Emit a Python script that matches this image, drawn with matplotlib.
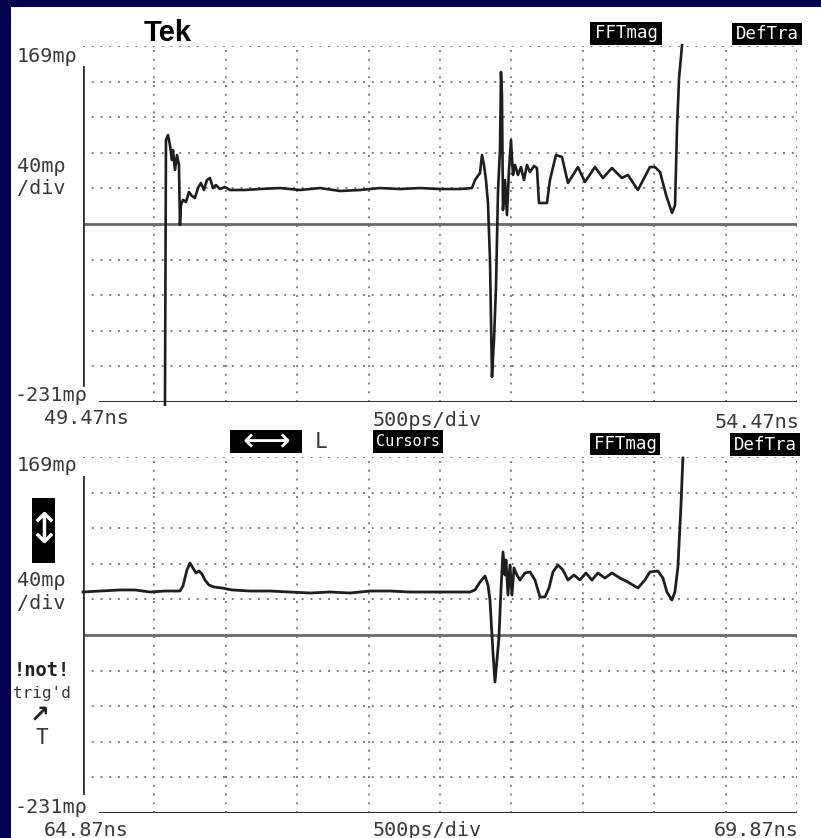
import matplotlib
matplotlib.use('Agg')
import numpy as np
from matplotlib import pyplot as plt
from matplotlib.patches import Rectangle

# screen settings
v_top, v_bottom = 169, -231        # mρ
v_per_div = 40
center_v = -31                      # solid reference line
t_per_div = 0.5                     # ns (500 ps/div)
t0_top, t1_top = 49.47, 54.47
t0_bot, t1_bot = 64.87, 69.87

# upper trace (ns, mρ)
t_upper = [50.044, 50.051, 50.065, 50.079, 50.093, 50.100, 50.114, 50.128, 50.142, 50.149,
           50.156, 50.170, 50.191, 50.212, 50.233, 50.254, 50.275, 50.296, 50.317, 50.338,
           50.359, 50.380, 50.401, 50.429, 50.464, 50.499, 50.604, 50.709, 50.850, 50.990,
           51.130, 51.270, 51.410, 51.550, 51.690, 51.830, 51.970, 52.110, 52.194, 52.215,
           52.250, 52.264, 52.278, 52.292, 52.306, 52.320, 52.334, 52.348, 52.362, 52.369,
           52.376, 52.390, 52.397, 52.404, 52.411, 52.425, 52.439, 52.453, 52.467, 52.481,
           52.495, 52.516, 52.537, 52.558, 52.579, 52.600, 52.628, 52.649, 52.663, 52.719,
           52.740, 52.782, 52.824, 52.866, 52.936, 52.985, 53.055, 53.111, 53.174, 53.244,
           53.286, 53.356, 53.440, 53.475, 53.511, 53.553, 53.595, 53.616, 53.630, 53.644,
           53.665]
v_upper = [-234, 63.4, 69.0, 57.8, 40.9, 52.1, 29.7, 46.5, 35.3, -32.1,
           -9.7, -4.0, -6.3, 5.0, 0.5, -1.8, 9.4, 15.1, 7.2, 18.4,
           20.7, 9.4, 12.8, 8.3, 10.6, 7.2, 7.2, 8.3, 9.4, 7.2,
           9.4, 6.1, 7.2, 9.4, 8.3, 9.4, 8.3, 8.3, 9.4, 18.4,
           26.3, 46.5, 35.3, 18.4, -7.4, -71.4, -202.9, -161.3, -102.9, -49.0,
           5.0, 52.1, 139.8, 113.9, -15.3, 18.4, -20.9, 29.7, 63.4, 24.1,
           35.3, 24.1, 33.0, 18.4, 35.3, 27.4, 34.2, 31.9, -7.4, -7.4,
           18.4, 46.5, 44.3, 15.1, 33.0, 16.2, 33.0, 20.7, 31.9, 20.7,
           24.1, 7.2, 33.0, 33.0, 27.4, 1.6, -18.6, -9.7, 78.0, 133.0,
           170.0]

# lower trace (ns, mρ)
t_lower = [64.870, 64.989, 65.129, 65.234, 65.339, 65.444, 65.549, 65.570, 65.598, 65.619,
           65.640, 65.661, 65.682, 65.703, 65.724, 65.752, 65.787, 65.843, 65.913, 66.039,
           66.179, 66.319, 66.460, 66.600, 66.740, 66.880, 67.020, 67.160, 67.300, 67.440,
           67.580, 67.615, 67.650, 67.685, 67.706, 67.720, 67.741, 67.755, 67.769, 67.783,
           67.797, 67.811, 67.825, 67.832, 67.846, 67.860, 67.874, 67.888, 67.909, 67.930,
           67.965, 68.000, 68.035, 68.070, 68.105, 68.133, 68.161, 68.196, 68.231, 68.266,
           68.308, 68.350, 68.392, 68.434, 68.476, 68.525, 68.574, 68.630, 68.686, 68.756,
           68.805, 68.840, 68.896, 68.931, 68.959, 68.994, 69.015, 69.036, 69.057, 69.071]
v_lower = [17.3, 18.4, 19.6, 19.6, 17.3, 18.4, 18.4, 24.1, 42.0, 49.9,
           44.3, 38.7, 40.9, 37.5, 30.8, 25.2, 22.9, 21.8, 19.6, 18.4,
           18.4, 17.3, 16.2, 17.3, 16.2, 18.4, 18.4, 17.3, 17.3, 17.3,
           17.3, 19.6, 28.5, 35.3, 25.2, 8.3, -51.2, -83.8, -59.1, -33.2,
           19.6, 62.3, 36.4, 53.3, 13.9, 47.7, 13.9, 44.3, 36.4, 30.8,
           38.7, 39.8, 30.8, 11.7, 11.7, 21.8, 39.8, 47.7, 42.0, 30.8,
           36.4, 30.8, 38.7, 30.8, 38.7, 33.0, 38.7, 33.0, 28.5, 21.8,
           30.8, 39.8, 40.9, 33.0, 17.3, 8.3, 17.3, 45.4, 112.8, 167.9]

W, H = 821, 838
NAVY = '#03034f'
GRID = '#808080'
TXT = '#3a3a3a'
MONO = 'DejaVu Sans Mono'

fig = plt.figure(figsize=(W / 100, H / 100), dpi=100)
fig.patch.set_facecolor(NAVY)
fig.add_artist(Rectangle((11 / W, 0), 1 - 11 / W, 1 - 7 / H, transform=fig.transFigure,
                         facecolor='white', edgecolor='none', zorder=-5))


def px(x, y):
    return x / W, 1 - y / H


def scope_axes(top_px, t0, t1, left_span):
    ax = fig.add_axes([83 / W, 1 - (top_px + 356) / H, 714 / W, 356 / H])
    ax.set_xlim(t0, t1)
    ax.set_ylim(v_bottom, v_top)
    ax.patch.set_alpha(0)
    for s in ax.spines.values():
        s.set_visible(False)
    ax.set_xticks([])
    ax.set_yticks([])
    # dotted graticule
    for k in range(1, 11):
        ax.axvline(t0 + k * t_per_div, color=GRID, lw=1.4, ls=(0, (1, 3.5)), zorder=1)
    for k in range(0, 10):
        v = v_top - k * v_per_div
        if abs(v - center_v) < 1e-6:
            continue
        ax.axhline(v, color=GRID, lw=1.4, ls=(0, (1, 3.5)), zorder=1)
    ax.axhline(center_v, color='#6a6a6a', lw=2.0, zorder=2)
    ax.axhline(v_bottom, xmin=0.024, xmax=1.0, color='#333333', lw=2.2, zorder=2)
    ax.axvline(t0, ymin=left_span[0], ymax=left_span[1], color='#333333', lw=2.0, zorder=2)
    return ax


ax1 = scope_axes(46, t0_top, t1_top, (0.048, 0.941))
ax1.plot(t_upper, v_upper, color='#1e1e1e', lw=1.9, zorder=3, clip_on=False)

ax2 = scope_axes(457, t0_bot, t1_bot, (0.056, 0.944))
ax2.plot(t_lower, v_lower, color='#1e1e1e', lw=2.0, zorder=3, clip_on=False)


def label(x, y, s, ha='left', size=14.5, weight='normal', color=TXT, family=MONO):
    fig.text(*px(x, y), s, ha=ha, va='center', fontsize=size, fontweight=weight,
             color=color, family=family)


def black_box(x0, y0, x1, y1, s, size=11, family=MONO):
    fig.add_artist(Rectangle(px(x0, y1), (x1 - x0) / W, (y1 - y0) / H,
                             transform=fig.transFigure, facecolor='black',
                             edgecolor='none', zorder=4))
    t = fig.text(*px((x0 + x1) / 2, (y0 + y1) / 2), s, ha='center', va='center',
                 fontsize=size, color='white', family=family, zorder=5)
    return t


# upper panel text
label(168, 33, 'Tek', ha='center', size=21, weight='bold', color='black',
      family='Liberation Sans')
label(17, 57, '169mρ')
label(17, 167, '40mρ')
label(17, 189, '/div')
label(14, 395, '-231mρ')
label(44, 418, '49.47ns')
label(373, 420, '500ps/div')
label(799, 422, '54.47ns', ha='right')
black_box(590, 22, 662, 45, 'FFTmag', size=12.5)
black_box(732, 23, 802, 45, 'DefTra', size=12.5)

# lower panel text
black_box(230, 430, 302, 453, '⟷', size=24, family='DejaVu Sans')
label(315, 442, 'L', size=15)
black_box(373, 430, 443, 453, 'Cursors', size=11)
black_box(590, 433, 660, 455, 'FFTmag', size=12.5)
black_box(730, 433, 800, 456, 'DefTra', size=12.5)
label(17, 465, '169mρ')
black_box(32, 498, 55, 563, '↕', size=30, family='DejaVu Sans')
label(17, 580, '40mρ')
label(17, 603, '/div')
label(42, 670, '!not!', ha='center', size=13.5, weight='bold', color='#222222')
label(42, 693, "trig'd", ha='center', size=11.5)
label(40, 715, '↗', ha='center', size=17, weight='bold', color='#222222', family='DejaVu Sans')
label(42, 738, 'T', ha='center', size=15)
label(14, 807, '-231mρ')
label(44, 830, '64.87ns')
label(373, 830, '500ps/div')
label(799, 830, '69.87ns', ha='right')

fig.savefig('out.png', dpi=100, facecolor=fig.get_facecolor())
